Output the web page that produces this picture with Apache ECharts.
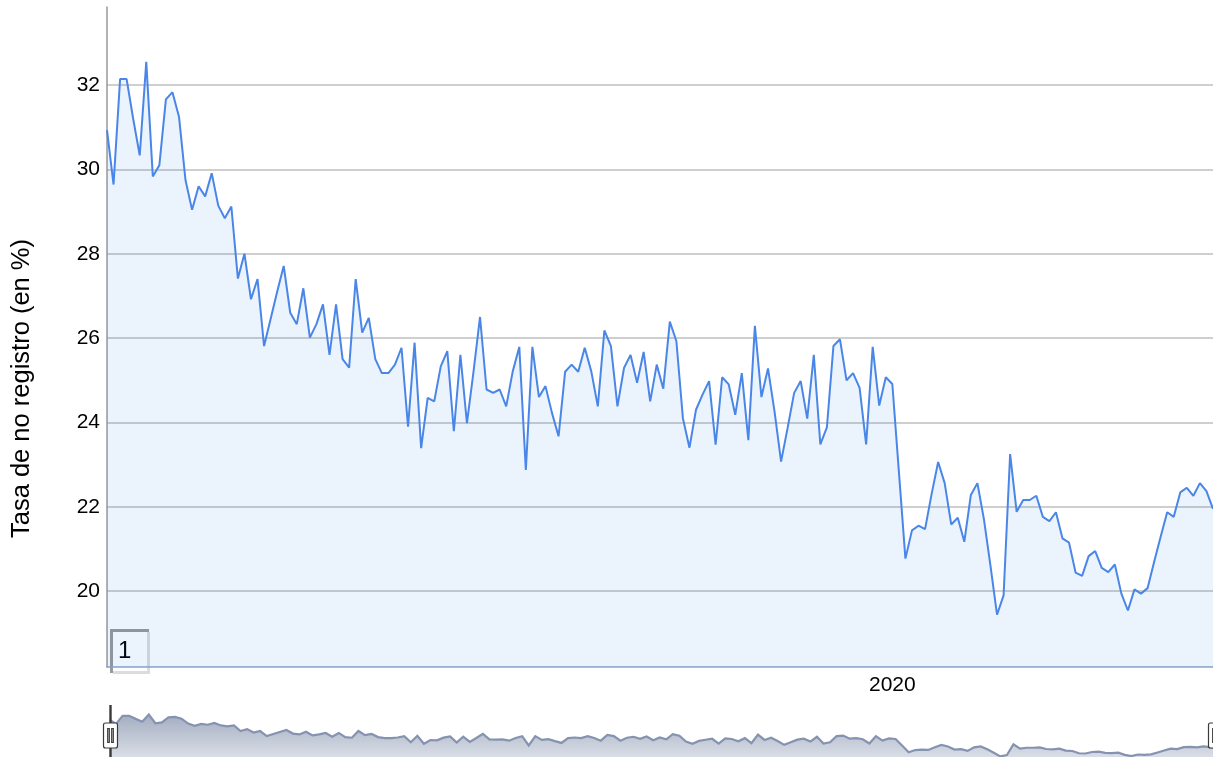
<!DOCTYPE html>
<html>
<head>
<meta charset="utf-8">
<script src="https://cdn.jsdelivr.net/npm/echarts@6/dist/echarts.min.js"></script>
<style>
  html, body { margin: 0; padding: 0; background: #fff; }
  #chart { width: 1213px; height: 757px; }
</style>
</head>
<body>
<div id="chart"></div>
<script>
// ---- data ----
const startYear = 2010;          // first month of the series (January)
const xTickLabels = ['2020'];    // years labelled on the x axis
const yTicks = [20, 22, 24, 26, 28, 30, 32];
const yAxisTitle = 'Tasa de no registro (en %)';
const flagLabel = '1';

const rates = [
  30.93, 29.64, 32.14, 32.14, 31.20, 30.33, 32.55, 29.83, 30.10, 31.66,
  31.83, 31.25, 29.74, 29.04, 29.60, 29.36, 29.91, 29.14, 28.84, 29.12,
  27.41, 28.00, 26.92, 27.40, 25.81, 26.45, 27.10, 27.71, 26.60, 26.33,
  27.18, 26.01, 26.33, 26.80, 25.60, 26.80, 25.50, 25.30, 27.40, 26.13,
  26.48, 25.50, 25.17, 25.17, 25.37, 25.77, 23.90, 25.89, 23.39, 24.58,
  24.50, 25.33, 25.69, 23.79, 25.60, 23.98, 25.20, 26.50, 24.78, 24.70,
  24.78, 24.38, 25.21, 25.79, 22.87, 25.79, 24.60, 24.86, 24.22, 23.67,
  25.20, 25.37, 25.20, 25.77, 25.21, 24.38, 26.18, 25.81, 24.38, 25.29,
  25.60, 24.94, 25.67, 24.50, 25.37, 24.80, 26.39, 25.93, 24.10, 23.40,
  24.30, 24.66, 24.98, 23.47, 25.07, 24.90, 24.18, 25.17, 23.58, 26.29,
  24.60, 25.28, 24.26, 23.07, 23.87, 24.70, 24.98, 24.09, 25.60, 23.48,
  23.88, 25.81, 25.97, 25.00, 25.17, 24.82, 23.48, 25.79, 24.40, 25.07,
  24.91, 22.84, 20.77, 21.44, 21.55, 21.47, 22.30, 23.06, 22.56, 21.58,
  21.74, 21.17, 22.28, 22.56, 21.70, 20.60, 19.44, 19.90, 23.25, 21.88,
  22.16, 22.16, 22.26, 21.76, 21.66, 21.87, 21.25, 21.15, 20.44, 20.36,
  20.83, 20.95, 20.55, 20.45, 20.63, 19.94, 19.54, 20.04, 19.94, 20.07,
  20.69, 21.29, 21.87, 21.76, 22.34, 22.45, 22.26, 22.56, 22.37, 21.95
];

// month categories (YYYY-MM) for each value
const months = [];
for (let i = 0; i < rates.length; i++) {
  const y = startYear + Math.floor(i / 12);
  const m = (i % 12) + 1;
  months.push(y + '-' + (m < 10 ? '0' + m : m));
}

const FONT = "Arial, 'Liberation Sans', sans-serif";
const chart = echarts.init(document.getElementById('chart'), null, { renderer: 'canvas' });

const handlePath = 'path://M-0.6,0L0.6,0L0.6,17.5L-0.6,17.5Z' +
  'M-0.6,42.5L0.6,42.5L0.6,60L-0.6,60Z' +
  'M-5,17.5L5,17.5Q7,17.5 7,19.5L7,40.5Q7,42.5 5,42.5L-5,42.5Q-7,42.5 -7,40.5L-7,19.5Q-7,17.5 -5,17.5Z' +
  'M-2.8,23L-1.2,23L-1.2,37L-2.8,37Z' +
  'M1.2,23L2.8,23L2.8,37L1.2,37Z';

const shadowArea = () => new echarts.graphic.LinearGradient(0, 0, 0, 1, [
  { offset: 0, color: '#e8ebf0' }, { offset: 1, color: '#a4aec2' }]);

chart.setOption({
  animation: false,
  backgroundColor: '#fff',
  textStyle: { fontFamily: FONT },
  grid: { left: 107, right: -1, top: 7, bottom: 90, containLabel: false },
  xAxis: {
    type: 'category',
    data: months,
    boundaryGap: false,
    axisLine: { show: true, lineStyle: { color: '#8fa2c6', width: 1.5 } },
    axisTick: { show: false },
    splitLine: { show: false },
    axisLabel: {
      color: '#000',
      fontSize: 21,
      fontFamily: FONT,
      margin: 8,
      interval: function (idx, val) {
        return val.slice(5) === '01' && xTickLabels.indexOf(val.slice(0, 4)) >= 0;
      },
      formatter: function (val) { return val.slice(0, 4); }
    }
  },
  yAxis: {
    type: 'value',
    min: 18.2,
    max: 33.85,
    minInterval: 2,
    maxInterval: 2,
    name: yAxisTitle,
    nameLocation: 'middle',
    nameRotate: 90,
    nameGap: 72,
    nameTextStyle: { color: '#000', fontSize: 25.5, fontFamily: FONT, padding: [0, 103, 0, 0] },
    axisLine: { show: true, lineStyle: { color: '#999', width: 1.5 } },
    axisTick: { show: false },
    axisLabel: {
      color: '#000', fontSize: 21, fontFamily: FONT, margin: 7,
      showMinLabel: false, showMaxLabel: false,
      formatter: function (v) { return yTicks.indexOf(v) >= 0 ? String(v) : ''; }
    },
    splitLine: {
      show: true, showMinLine: false, showMaxLine: false,
      lineStyle: { color: '#bfbfbf', width: 1.6 }
    }
  },
  dataZoom: [{
    type: 'slider',
    xAxisIndex: 0,
    start: 0, end: 100,
    left: 107, right: -1,
    top: 702, height: 67,
    backgroundColor: 'rgba(0,0,0,0)',
    borderColor: 'rgba(0,0,0,0)',
    fillerColor: 'rgba(0,0,0,0)',
    showDetail: false,
    showDataShadow: true,
    brushSelect: false,
    moveHandleSize: 0,
    handleIcon: handlePath,
    handleSize: 60,
    handleStyle: { color: '#fff', borderColor: '#3a3a3a', borderWidth: 1.2 },
    emphasis: { handleStyle: { color: '#fff', borderColor: '#3a3a3a', borderWidth: 1.2 } },
    dataBackground: {
      lineStyle: { color: '#8593b0', width: 2.2, opacity: 1 },
      areaStyle: { opacity: 1, color: shadowArea() }
    },
    selectedDataBackground: {
      lineStyle: { color: '#8593b0', width: 2.2, opacity: 1 },
      areaStyle: { opacity: 1, color: shadowArea() }
    }
  }],
  series: [{
    type: 'line',
    data: rates,
    showSymbol: false,
    symbol: 'none',
    smooth: false,
    lineStyle: { color: '#4a86e8', width: 2 },
    areaStyle: { color: 'rgba(0, 100, 225, 0.115)' },
    z: 3
  }],
  graphic: [{
    type: 'group',
    left: 109, top: 628,
    children: [
      { type: 'polyline', shape: { points: [[1.5, 44], [1.5, 1.5], [39, 1.5]] },
        style: { stroke: '#9a9a9a', lineWidth: 3, fill: null } },
      { type: 'polyline', shape: { points: [[3, 43.5], [38.5, 43.5], [38.5, 3]] },
        style: { stroke: '#dcdcdc', lineWidth: 3, fill: null } },
      { type: 'text', left: 8, top: 10,
        style: { text: flagLabel, font: '24px ' + FONT, fill: '#000' } }
    ]
  }]
});
</script>
</body>
</html>
